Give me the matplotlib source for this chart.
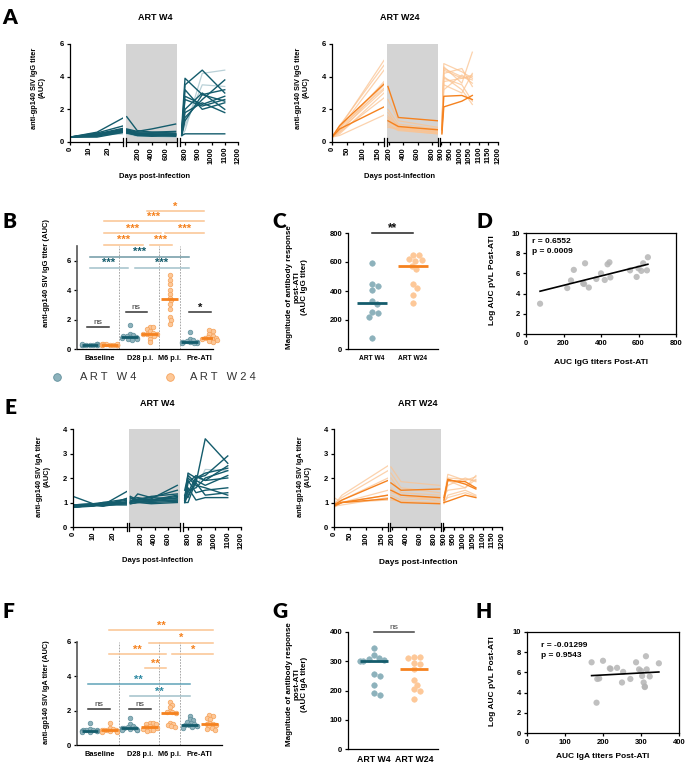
import numpy as np
import matplotlib.pyplot as plt
from matplotlib.lines import Line2D

plt.rcParams['font.family'] = ['Liberation Sans', 'DejaVu Sans']
plt.rcParams['font.weight'] = 'bold'
plt.rcParams['axes.linewidth'] = 0.9

# ---------------- data ----------------
# Panel A, IgG, ART W4 (12 animals), three time windows
igg_w4_days = [[0, 14, 28], [40, 190, 400, 740], [775, 800, 930, 1100]]
igg_w4_pre = [[0.3, 0.6, 1.5], [0.3, 0.55, 1.0], [0.3, 0.5, 0.85], [0.3, 0.45, 0.8],
              [0.3, 0.4, 0.75], [0.3, 0.45, 0.7], [0.3, 0.35, 0.7], [0.3, 0.5, 0.65],
              [0.3, 0.4, 0.6], [0.3, 0.3, 0.6], [0.3, 0.35, 0.55], [0.3, 0.45, 0.5]]
igg_w4_art = [[1.55, 0.7, 0.6, 0.55], [0.8, 0.65, 0.8, 1.1], [0.75, 0.6, 0.6, 0.65],
              [0.7, 0.5, 0.5, 0.5], [0.7, 0.55, 0.5, 0.45], [0.65, 0.45, 0.45, 0.5],
              [0.6, 0.4, 0.4, 0.35], [0.6, 0.5, 0.45, 0.4], [0.55, 0.4, 0.35, 0.4],
              [0.55, 0.45, 0.4, 0.45], [0.5, 0.35, 0.35, 0.3], [0.5, 0.4, 0.35, 0.35]]
igg_w4_ati = [[0.9, 3.9, 2.9, 3.2], [0.5, 3.5, 4.4, 3.0], [0.4, 1.5, 2.6, 3.8],
              [0.5, 2.8, 2.3, 2.8], [0.5, 2.0, 3.0, 2.0], [0.6, 3.2, 2.0, 2.4],
              [0.4, 0.5, 0.5, 0.5], [0.4, 1.8, 2.4, 1.8], [0.45, 1.3, 2.9, 2.5],
              [0.6, 2.6, 2.2, 2.6], [0.4, 0.7, 4.2, 4.4], [0.5, 1.0, 3.5, 3.4]]
igg_w4_dark = [1, 1, 1, 1, 1, 1, 1, 1, 1, 1, 0, 0]

# Panel A, IgG, ART W24
igg_w24_days = [[0, 25, 170], [185, 330, 880], [905, 915, 1010, 1065]]
igg_w24_pre = [[0.3, 1.0, 3.55], [0.3, 0.8, 2.15], [0.3, 0.9, 5.0], [0.3, 1.0, 4.7],
               [0.3, 0.8, 4.4], [0.3, 0.7, 3.7], [0.3, 0.6, 3.5], [0.3, 0.7, 3.2],
               [0.3, 0.5, 3.0], [0.3, 0.6, 2.7], [0.3, 0.4, 1.65], [0.3, 0.9, 3.3]]
igg_w24_art = [[3.4, 1.5, 1.3], [1.3, 0.95, 0.75], [2.6, 1.3, 0.9], [2.0, 1.1, 0.8],
               [1.8, 0.9, 0.7], [1.6, 1.0, 0.65], [1.5, 0.85, 0.75], [1.4, 0.8, 0.6],
               [1.2, 0.9, 0.55], [1.1, 0.75, 0.5], [1.0, 0.7, 0.5], [0.9, 0.8, 0.6]]
igg_w24_ati = [[0.75, 2.8, 2.85, 2.6], [0.5, 2.15, 2.5, 2.85], [0.6, 4.8, 4.3, 3.9],
               [0.8, 4.6, 3.6, 5.5], [0.6, 4.4, 3.9, 4.1], [0.9, 4.2, 4.5, 3.4],
               [0.7, 4.0, 3.2, 2.3], [0.6, 3.7, 3.9, 4.0], [0.5, 3.5, 3.0, 4.2],
               [0.8, 3.2, 4.1, 3.6], [0.7, 4.5, 4.0, 3.8], [0.6, 3.9, 3.5, 2.5]]
igg_w24_dark = [1, 1, 0, 0, 0, 0, 0, 0, 0, 0, 0, 0]

# Panel E, IgA, ART W4
iga_w4_days = [[0, 10, 15, 28], [40, 150, 350, 740], [775, 800, 860, 930, 1100]]
iga_w4_pre = [[1.25, 0.95, 0.9, 1.5], [0.9, 0.9, 0.85, 1.2], [0.85, 0.9, 0.95, 1.1],
              [0.85, 0.85, 0.95, 1.0], [0.8, 0.9, 0.85, 1.0], [0.85, 0.9, 0.95, 0.95],
              [0.8, 0.85, 0.9, 0.9], [0.9, 0.95, 0.9, 1.05], [0.85, 0.9, 1.0, 1.15],
              [0.8, 0.9, 0.9, 0.95], [0.9, 0.95, 1.0, 1.0], [0.85, 0.9, 0.95, 1.0]]
iga_w4_art = [[1.25, 1.1, 1.15, 1.7], [1.0, 1.35, 1.2, 1.5], [1.05, 1.1, 1.25, 1.35],
              [1.2, 1.05, 1.1, 1.25], [0.95, 1.0, 1.05, 1.2], [1.0, 1.15, 1.2, 1.15],
              [1.1, 1.0, 1.05, 1.1], [1.0, 1.05, 1.0, 1.05], [1.15, 1.2, 1.1, 1.3],
              [0.95, 1.0, 0.95, 1.0], [1.05, 1.1, 1.1, 1.1], [1.0, 1.05, 1.05, 1.05]]
iga_w4_ati = [[1.5, 2.1, 1.8, 3.6, 2.6], [1.2, 2.2, 2.0, 2.1, 2.9], [1.0, 1.8, 2.1, 1.9, 2.5],
              [1.3, 1.2, 2.0, 2.2, 2.4], [1.1, 1.5, 1.6, 2.0, 2.3], [1.0, 1.0, 1.9, 1.7, 2.1],
              [1.2, 1.9, 1.4, 1.5, 1.6], [1.0, 1.3, 1.8, 1.3, 1.4], [1.1, 1.6, 1.1, 1.2, 1.2],
              [1.05, 2.0, 1.7, 1.6, 1.3], [1.15, 1.4, 2.05, 1.9, 2.0], [1.0, 2.2, 1.6, 2.35, 2.3]]
iga_w4_dark = [1, 1, 1, 1, 1, 1, 1, 1, 1, 1, 1, 0]

# Panel E, IgA, ART W24
iga_w24_days = [[0, 25, 170], [185, 330, 880], [900, 920, 1010, 1065]]
iga_w24_pre = [[0.9, 1.1, 1.9], [0.85, 1.0, 1.3], [0.9, 1.0, 1.15], [0.9, 1.3, 2.5],
               [0.95, 1.2, 2.3], [0.85, 1.1, 2.0], [0.9, 1.0, 1.5], [0.8, 1.0, 1.3],
               [0.85, 0.9, 1.2], [1.2, 1.0, 1.1]]
iga_w24_art = [[1.8, 1.5, 1.55], [1.2, 1.0, 0.95], [1.5, 1.3, 1.2], [2.45, 1.85, 1.7],
               [2.2, 1.6, 1.4], [2.0, 1.4, 1.3], [1.6, 1.2, 1.2], [1.4, 1.3, 1.05],
               [1.3, 1.1, 1.15], [1.1, 1.05, 1.0]]
iga_w24_ati = [[1.1, 1.95, 1.75, 1.55], [1.0, 1.05, 1.3, 1.2], [1.2, 1.9, 1.85, 1.6],
               [1.2, 2.15, 1.9, 2.05], [1.0, 2.0, 1.95, 1.9], [1.1, 1.7, 2.0, 1.85],
               [1.3, 1.5, 1.6, 2.1], [0.95, 1.3, 1.5, 1.3], [1.05, 1.2, 1.4, 1.25],
               [1.0, 1.9, 1.6, 1.95]]
iga_w24_dark = [1, 1, 1, 0, 0, 0, 0, 0, 0, 0]

# Panel B / F: group values (x slot, group, values)
group_labels = ['Baseline', 'D28 p.i.', 'M6 p.i.', 'Pre-ATI']
group_label_pos = [0.5, 2.5, 4.0, 5.5]
slot_arm = ['w4', 'w24', 'w4', 'w24', 'w24', 'w4', 'w24']
igg_groups = [
    [0.28, 0.3, 0.3, 0.31, 0.29, 0.32, 0.3, 0.3, 0.28, 0.31, 0.33, 0.3],
    [0.3, 0.29, 0.31, 0.3, 0.32, 0.3, 0.28, 0.3, 0.31, 0.3, 0.29, 0.33],
    [1.6, 1.05, 0.95, 0.9, 0.85, 0.8, 0.8, 0.78, 0.75, 0.7, 0.65, 0.6],
    [1.5, 1.5, 1.35, 1.2, 1.1, 1.05, 1.05, 1.0, 0.95, 0.85, 0.7, 0.45],
    [5.0, 4.7, 4.4, 4.0, 3.75, 3.5, 3.3, 3.05, 2.75, 2.2, 2.0, 1.7],
    [1.15, 0.7, 0.6, 0.55, 0.5, 0.5, 0.48, 0.45, 0.45, 0.42, 0.4, 0.38],
    [1.3, 1.2, 1.0, 0.9, 0.8, 0.75, 0.75, 0.7, 0.65, 0.6, 0.55, 0.5]]
iga_groups = [
    [1.3, 0.95, 0.9, 0.88, 0.85, 0.85, 0.83, 0.82, 0.8, 0.8, 0.78, 0.76],
    [1.3, 1.0, 0.95, 0.9, 0.88, 0.85, 0.85, 0.82, 0.8, 0.8, 0.78, 0.76],
    [1.55, 1.2, 1.1, 1.05, 1.0, 1.0, 0.98, 0.95, 0.95, 0.9, 0.9, 0.88],
    [1.3, 1.3, 1.25, 1.2, 1.1, 1.05, 1.05, 1.0, 0.95, 0.9, 0.85, 0.8],
    [2.5, 2.35, 2.2, 2.0, 1.9, 1.9, 1.85, 1.3, 1.25, 1.15, 1.1, 1.05],
    [1.7, 1.5, 1.45, 1.35, 1.3, 1.2, 1.15, 1.15, 1.1, 1.1, 1.05, 1.0],
    [1.75, 1.7, 1.6, 1.5, 1.3, 1.25, 1.2, 1.15, 1.1, 1.0, 0.95, 0.9]]

# Panel C / G: post-ATI magnitude
igg_mag_w4 = [590, 445, 435, 405, 330, 310, 255, 245, 220, 75]
igg_mag_w24 = [650, 645, 620, 615, 605, 575, 550, 445, 420, 375, 315]
iga_mag_w4 = [345, 320, 310, 308, 305, 300, 300, 255, 250, 220, 190, 185]
iga_mag_w24 = [315, 315, 310, 295, 290, 275, 235, 220, 205, 200, 170]

# Panel D / H: correlation
igg_auc = [75, 220, 240, 255, 305, 310, 315, 335, 375, 400, 420, 435, 445, 450,
           555, 590, 600, 615, 625, 650, 645]
igg_pvl = [3.0, 4.55, 5.3, 6.35, 5.0, 4.95, 7.0, 4.6, 5.45, 6.0, 5.35, 6.9, 7.1, 5.6,
           6.3, 5.65, 6.5, 6.25, 7.0, 7.6, 6.3]
iga_auc = [170, 185, 190, 183, 200, 218, 220, 237, 250, 253, 272, 287, 295, 300,
           303, 307, 310, 310, 313, 315, 323, 347]
iga_pvl = [7.0, 5.35, 5.4, 3.0, 7.15, 6.4, 6.35, 6.45, 5.0, 6.05, 5.35, 7.0, 6.3, 6.15,
           5.65, 5.0, 4.6, 4.55, 7.6, 6.3, 5.6, 6.9]

# ---------------- style ----------------
W, H = 685, 766
teal = '#145c6c'
teal_light = '#a2c1ca'
teal_mid = '#2f8aa3'
orange = '#f5821f'
orange_light = '#fbc391'
w4_face, w4_edge = '#8db2bc', '#5f8f9b'
w24_face, w24_edge = '#fdc898', '#f6a25a'

fig = plt.figure(figsize=(W / 100, H / 100), dpi=100)


def px_axes(x0, y0, x1, y1):
    return fig.add_axes([x0 / W, 1 - y1 / H, (x1 - x0) / W, (y1 - y0) / H])


def ftext(x, y, s, **kw):
    kw.setdefault('ha', 'center')
    kw.setdefault('va', 'center')
    return fig.text(x / W, 1 - y / H, s, **kw)


def style_ax(ax, size=5.5):
    ax.spines[['top', 'right']].set_visible(False)
    ax.tick_params(labelsize=size, length=2.5, width=0.9, pad=1.5)


def timecourse(xpix, ytop, ybot, xlims, xticks, days, vals, dark, col, col_light, ymax):
    for i in range(3):
        ax = px_axes(xpix[i][0], ytop, xpix[i][1], ybot)
        style_ax(ax)
        ax.set_xlim(xlims[i])
        ax.set_ylim(0, ymax)
        ax.set_xticks(xticks[i])
        ax.tick_params(axis='x', labelrotation=90, pad=1)
        if i == 1:
            ax.set_facecolor('#d4d4d4')
        if i > 0:
            ax.spines['left'].set_visible(False)
            ax.set_yticks([])
            ax.plot([0, 0], [-0.045, 0.045], transform=ax.transAxes, color='k', lw=0.9, clip_on=False)
        else:
            ax.set_yticks(range(0, ymax + 1, 2 if ymax > 4 else 1))
        if i < 2:
            ax.plot([1, 1], [-0.045, 0.045], transform=ax.transAxes, color='k', lw=0.9, clip_on=False)
        for k in np.argsort(dark, kind='stable'):
            if dark[k]:
                ax.plot(days[i], vals[i][k], color=col, lw=1.0)
            else:
                ax.plot(days[i], vals[i][k], color=col_light, lw=0.9, alpha=0.75)


def swarm(vals, yscale, xscale, d, maxw):
    placed, offs = [], []
    for v in vals:
        y = v * yscale
        cands = [0.0]
        for k in range(1, 40):
            cands += [k * 0.7, -k * 0.7]
        pick = None
        for c in cands:
            if abs(c) > maxw:
                break
            if all((c - px) ** 2 + (y - py) ** 2 >= d ** 2 for px, py in placed):
                pick = c
                break
        if pick is None:
            pick = maxw * (1 if len(placed) % 2 else -1)
        placed.append((pick, y))
        offs.append(pick / xscale)
    return np.array(offs)


def brackets(ax, items, fs=8):
    for x1, x2, y, label, lc, tc in items:
        ax.plot([x1, x2], [y, y], color=lc, lw=1.1, clip_on=False)
        is_ns = label == 'ns'
        ax.annotate(label, ((x1 + x2) / 2, y), xytext=(0, 0.5 if is_ns else -0.5),
                    textcoords='offset points', ha='center', va='bottom', color=tc,
                    fontsize=6 if is_ns else fs,
                    fontweight='normal' if is_ns else 'bold', annotation_clip=False)


def group_panel(ax, groups, yscale, xscale, ymax, yticks, seps):
    style_ax(ax)
    for s in seps:
        ax.axvline(s, color='#9a9a9a', lw=0.6, ls=(0, (2, 1.5)), zorder=0)
    for i, vals in enumerate(groups):
        w4 = slot_arm[i] == 'w4'
        offs = swarm(vals, yscale, xscale, 3.2, 7.5)
        ax.scatter(i + offs, vals, s=11, facecolor=w4_face if w4 else w24_face,
                   edgecolor=w4_edge if w4 else w24_edge, linewidth=0.5, zorder=3, clip_on=False)
        m = np.median(vals)
        ax.plot([i - 0.42, i + 0.42], [m, m], color=teal if w4 else orange, lw=2.0, zorder=4,
                solid_capstyle='butt')
    ax.set_ylim(0, ymax)
    ax.set_yticks(yticks)
    ax.set_xticks(group_label_pos)
    ax.set_xticklabels(group_labels, fontsize=5.3)
    ax.tick_params(axis='x', length=0, pad=4)
    ax.spines['left'].set_color('#555555')
    ax.spines['left'].set_linewidth(1.2)


def mag_panel(ax, w4, w24, yscale, xscale, ymax, yticks):
    style_ax(ax)
    for i, (vals, face, mc) in enumerate([(w4, w4_face, teal), (w24, w24_face, orange)]):
        offs = swarm(vals, yscale, xscale, 5.5, 14)
        ax.scatter(i + offs, vals, s=16, facecolor=face, edgecolor=face, linewidth=0.4, zorder=3)
        m = np.median(vals)
        ax.plot([i - 0.36, i + 0.36], [m, m], color=mc, lw=2.0, zorder=4, solid_capstyle='butt')
    ax.set_ylim(0, ymax)
    ax.set_yticks(yticks)
    ax.set_xticks([0, 1])
    ax.tick_params(axis='x', length=0, pad=4)


def corr_panel(ax, x, y, xmax, xticks, rtext):
    ax.tick_params(labelsize=5.5, length=2.5, width=0.9, pad=1.5)
    ax.scatter(x, y, s=20, color='#b5b5b5', alpha=0.85, edgecolor='none', zorder=3)
    k, b = np.polyfit(x, y, 1)
    xx = np.array([min(x), max(x)])
    ax.plot(xx, k * xx + b, color='k', lw=1.2, zorder=4)
    ax.set_xlim(0, xmax)
    ax.set_ylim(0, 10)
    ax.set_xticks(xticks)
    ax.set_yticks(range(0, 11, 2))
    ax.text(rtext[0], rtext[1], rtext[2], transform=ax.transAxes, fontsize=6, va='top',
            linespacing=1.5)


# ---------------- panel A ----------------
timecourse([(70, 123), (126, 177), (180, 238)], 44, 142,
           [(0, 27.5), (30, 760), (762, 1200)],
           [[0, 10, 20], [200, 400, 600], [800, 900, 1000, 1100, 1200]],
           igg_w4_days, [igg_w4_pre, igg_w4_art, igg_w4_ati], igg_w4_dark, teal, teal_light, 6)
timecourse([(332, 384), (387, 438), (440, 498)], 44, 142,
           [(0, 170), (172, 884), (895, 1200)],
           [[0, 50, 100, 150], [200, 400, 600, 800], list(range(900, 1201, 50))],
           igg_w24_days, [igg_w24_pre, igg_w24_art, igg_w24_ati], igg_w24_dark, orange, orange_light, 6)
ftext(155, 17, 'ART W4', fontsize=6.5)
ftext(400, 17, 'ART W24', fontsize=6.5)
ftext(155, 176, 'Days post-infection', fontsize=5.5)
ftext(400, 177, 'Days post-infection', fontsize=5.5)
ftext(38, 88, 'anti-gp140 SIV IgG titer\n(AUC)', rotation=90, fontsize=5.3, linespacing=1.1)
ftext(302, 88, 'anti-gp140 SIV IgG titer\n(AUC)', rotation=90, fontsize=5.3, linespacing=1.1)

# ---------------- panel B ----------------
axB = px_axes(77, 246, 213, 349)
group_panel(axB, igg_groups, 14.65, 19.9, 7, [0, 2, 4, 6], [1.46, 3.47, 4.52])
axB.set_xlim(-0.65, 6.18)
brackets(axB, [
    (-0.15, 0.95, 1.5, 'ns', '#333333', '#333333'),
    (1.8, 2.85, 2.53, 'ns', '#333333', '#333333'),
    (4.97, 6.08, 2.53, '*', '#333333', '#111111'),
    (0.0, 1.9, 5.53, '***', teal_light, teal),
    (2.25, 4.97, 5.53, '***', teal_light, teal),
    (0.0, 4.97, 6.28, '***', '#6f99a4', teal),
    (0.7, 2.65, 7.1, '***', orange_light, orange),
    (3.0, 4.1, 7.1, '***', orange_light, orange),
    (0.7, 3.55, 7.9, '***', orange_light, orange),
    (3.77, 5.73, 7.9, '***', orange_light, orange),
    (0.7, 5.73, 8.67, '***', orange_light, orange),
    (2.86, 5.73, 9.35, '*', orange_light, orange)])
ftext(47, 273, 'anti-gp140 SIV IgG titer (AUC)', rotation=90, fontsize=5.5)

# legend
fig.add_artist(Line2D([57 / W], [1 - 377 / H], marker='o', ms=5.5, mfc=w4_face, mec=w4_edge,
                      mew=0.6, transform=fig.transFigure))
fig.add_artist(Line2D([170 / W], [1 - 377 / H], marker='o', ms=5.5, mfc=w24_face, mec=w24_edge,
                      mew=0.6, transform=fig.transFigure))
ftext(80, 377, 'A R T   W 4', ha='left', fontsize=8, fontweight='normal', color='#333333')
ftext(190, 377, 'A R T   W 2 4', ha='left', fontsize=8, fontweight='normal', color='#333333')

# ---------------- panel C ----------------
axC = px_axes(348, 233, 438, 349)
mag_panel(axC, igg_mag_w4, igg_mag_w24, 116 / 800, 41, 800, [0, 200, 400, 600, 800])
axC.set_xlim(-0.585, 1.61)
axC.set_xticklabels(['ART W4', 'ART W24'], fontsize=4.8)
brackets(axC, [(0, 1, 800, '**', '#222222', '#111111')], fs=8.5)
ftext(297, 287, 'Magnitude of antibody response\npost-ATI\n(AUC IgG titer)', rotation=90,
      fontsize=5.8, linespacing=1.15)

# ---------------- panel D ----------------
axD = px_axes(526, 233, 676, 334)
corr_panel(axD, igg_auc, igg_pvl, 800, [0, 200, 400, 600, 800],
           (0.04, 0.95, 'r = 0.6552\np = 0.0009'))
ftext(601, 362, 'AUC IgG titers Post-ATI', fontsize=6)
ftext(493, 280, 'Log AUC pVL Post-ATI', rotation=90, fontsize=6)

# ---------------- panel E ----------------
timecourse([(73, 127), (129, 180), (183, 241)], 429, 527,
           [(0, 27), (20, 780), (762, 1200)],
           [[0, 10, 20], [200, 400, 600], [800, 900, 1000, 1100, 1200]],
           iga_w4_days, [iga_w4_pre, iga_w4_art, iga_w4_ati], iga_w4_dark, teal, teal_light, 4)
timecourse([(334, 388), (390, 441), (443, 502)], 429, 527,
           [(0, 170), (172, 900), (895, 1200)],
           [[0, 50, 100, 150], [200, 400, 600, 800], list(range(900, 1201, 50))],
           iga_w24_days, [iga_w24_pre, iga_w24_art, iga_w24_ati], iga_w24_dark, orange, orange_light, 4)
ftext(157, 403, 'ART W4', fontsize=6.5)
ftext(418, 403, 'ART W24', fontsize=6.5)
ftext(158, 561, 'Days post-infection', fontsize=5.5)
ftext(418, 562, 'Days post-infection', fontsize=6)
ftext(43, 477, 'anti-gp140 SIV IgA titer\n(AUC)', rotation=90, fontsize=5.3, linespacing=1.1)
ftext(304, 477, 'anti-gp140 SIV IgA titer\n(AUC)', rotation=90, fontsize=5.3, linespacing=1.1)

# ---------------- panel F ----------------
axF = px_axes(77, 642, 222, 745)
group_panel(axF, iga_groups, 17.2, 19.85, 6, [0, 2, 4, 6], [1.46, 3.47, 4.52])
axF.set_xlim(-0.65, 6.63)
brackets(axF, [
    (-0.1, 1.0, 2.09, 'ns', '#333333', '#333333'),
    (1.96, 3.07, 2.1, 'ns', '#333333', '#333333'),
    (2.0, 5.0, 2.87, '**', teal_light, teal_mid),
    (-0.1, 5.0, 3.53, '**', '#5fa3b8', teal_mid),
    (2.77, 3.83, 4.46, '**', orange_light, orange),
    (0.95, 3.83, 5.31, '**', orange_light, orange),
    (4.13, 6.2, 5.31, '*', orange_light, orange),
    (2.97, 6.2, 5.97, '*', orange_light, orange),
    (0.95, 6.2, 6.69, '**', orange_light, orange)])
ftext(47, 692, 'anti-gp140 SIV IgA titer (AUC)', rotation=90, fontsize=5.3)

# ---------------- panel G ----------------
axG = px_axes(348, 632, 438, 749)
mag_panel(axG, iga_mag_w4, iga_mag_w24, 117 / 400, 40, 400, [0, 100, 200, 300, 400])
axG.set_xlim(-0.65, 1.6)
axG.set_xticklabels(['ART W4', 'ART W24'], fontsize=6.3)
brackets(axG, [(0, 1, 400, 'ns', '#444444', '#444444')])
ftext(297, 684, 'Magnitude of antibody response\npost-ATI\n(AUC IgA titer)', rotation=90,
      fontsize=5.8, linespacing=1.15)

# ---------------- panel H ----------------
axH = px_axes(527, 632, 679, 733)
corr_panel(axH, iga_auc, iga_pvl, 400, [0, 100, 200, 300, 400],
           (0.09, 0.9, 'r = -0.01299\np = 0.9543'))
ftext(603, 756, 'AUC IgA titers Post-ATI', fontsize=6)
ftext(493, 681, 'Log AUC pVL Post-ATI', rotation=90, fontsize=6)

# panel letters
for letter, x, y in [('A', 10, 17), ('B', 9, 222), ('C', 279, 222), ('D', 484, 222),
                     ('E', 10, 408), ('F', 8, 611), ('G', 280, 611), ('H', 484, 612)]:
    ftext(x, y, letter, fontsize=15, family=['Lato', 'DejaVu Sans'], fontweight='heavy')

fig.savefig('out.png', dpi=100)
